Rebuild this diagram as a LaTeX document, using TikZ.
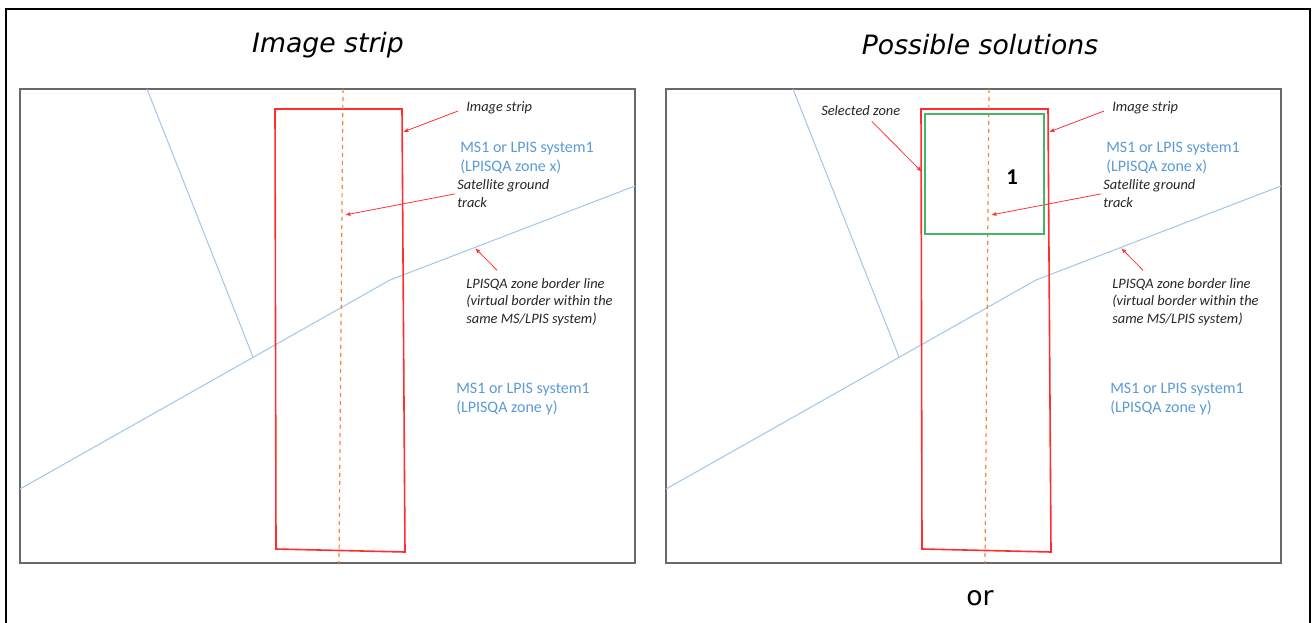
\documentclass[tikz,border=0pt]{standalone}
\usepackage{fontspec}
\setmainfont{Carlito}
\newfontfamily\headfont{DejaVu Sans}
\usetikzlibrary{calc}
\usetikzlibrary{arrows.meta}

\definecolor{zoneblue}{RGB}{165,200,234}
\definecolor{textblue}{RGB}{91,155,213}
\definecolor{stripred}{RGB}{255,45,45}
\definecolor{trackorange}{RGB}{240,135,65}
\definecolor{zonegreen}{RGB}{70,180,105}
\definecolor{framegray}{RGB}{105,105,105}

\begin{document}
\begin{tikzpicture}[x=0.75pt,y=-0.75pt]
	\tikzstyle{every node}=[inner sep=0pt]
	\tikzstyle{heading}=[font=\headfont\fontsize{20}{24}\selectfont\itshape]
	\tikzstyle{note}=[font=\fontsize{10.8}{13}\selectfont\itshape, text=black!85, anchor=west, align=left]
	\tikzstyle{zonetext}=[font=\fontsize{12}{14.3}\selectfont, text=textblue, anchor=west, align=left]
	\tikzstyle{pointer}=[draw=red!80, line width=0.6pt, -{Latex[length=4pt,width=3pt]}]
	
	\useasboundingbox (0,0) rectangle (1312,623);
	\draw[line width=1.9pt] (6,623) -- (6,9) -- (1310,9) -- (1310,623);
	
	\node[heading] (head1) at (328,45) {Image strip};
	\node[heading] (head2) at (980,45) {Possible solutions};
	
	% the two map panels
	\foreach \p/\dx/\lx in {a/0/456,b/646/464}{
		\begin{scope}[shift={(\dx,0)}]
		\draw[framegray, line width=1.4pt] (20,89) rectangle (635,563);
		
		\draw[zoneblue, line width=0.8pt] (147,89) -- (253,357);
		\draw[zoneblue, line width=0.8pt] (20,489) -- (390,280) -- (635,186);
		\draw[stripred, line width=1.2pt] (275,109) -- (402,109) -- (405,552) -- (276,549) -- cycle;
		\draw[trackorange, dashed, line width=0.9pt] (343,89) -- (339,563);
		
		\coordinate (edge\p) at (403,132);
		\coordinate (track\p) at (345,215);
		\coordinate (border\p) at (475,248);
		
		\node[note] (strip\p) at (466,108) {Image strip};
		\node[zonetext] (zonex\p) at (460,157.5) {MS1 or LPIS system1\\(LPISQA zone x)};
		\node[note] (sat\p) at (457,193.5) {Satellite ground\\track};
		\node[note] (line\p) at (466,302) {LPISQA zone border line\\(virtual border within the\\same MS/LPIS system)};
		\node[zonetext] (zoney\p) at (\lx,399.5) {MS1 or LPIS system1\\(LPISQA zone y)};
		
		\draw[pointer, shorten <=6.5pt] (strip\p.west) -- (edge\p);
		\draw[pointer, shorten <=1.5pt] (sat\p.west) -- (track\p);
		\draw[pointer] ($(line\p.north west)+(31,-8)$) -- (border\p);
		\end{scope}
	}
	
	% selected zone of the second panel
	\draw[zonegreen, line width=1.2pt] (925,114) rectangle (1044,234);
	\node[font=\bfseries\fontsize{17}{20}\selectfont] (num) at (1012,177) {1};
	\node[note] (sel) at (821,111) {Selected zone};
	\coordinate (seledge) at (922,172);
	\draw[pointer] ($(sel.south)+(11,5)$) -- (seledge);
	
	\node[font=\headfont\fontsize{20}{24}\selectfont] (alt) at (980,598) {or};
\end{tikzpicture}
\end{document}
